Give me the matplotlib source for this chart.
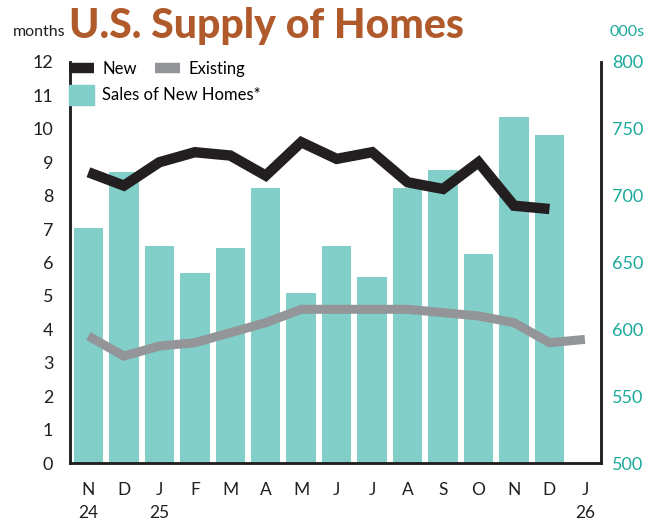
import numpy as np
import matplotlib.pyplot as plt
from matplotlib.patches import Patch
from matplotlib.lines import Line2D

months = ['N\n24', 'D', 'J\n25', 'F', 'M', 'A', 'M', 'J', 'J', 'A', 'S', 'O', 'N', 'D', 'J\n26']
# months' supply, new homes (Nov 24 - Dec 25)
new_supply = [8.7, 8.3, 9.0, 9.3, 9.2, 8.6, 9.6, 9.1, 9.3, 8.4, 8.2, 9.0, 7.7, 7.6]
# months' supply, existing homes (Nov 24 - Jan 26)
existing_supply = [3.8, 3.2, 3.5, 3.6, 3.9, 4.2, 4.6, 4.6, 4.6, 4.6, 4.5, 4.4, 4.2, 3.6, 3.7]
# sales of new homes, thousands (Nov 24 - Dec 25)
new_sales = [676, 718, 662, 642, 661, 706, 627, 662, 639, 706, 719, 656, 759, 745]

left_ticks = list(range(0, 13))
right_ticks = [500, 550, 600, 650, 700, 750, 800]

dark = '#231F20'
gray = '#939598'
teal_bar = '#82CEC9'
teal_txt = '#1AA99A'
title_col = '#B0592A'

plt.rcParams['font.family'] = ['Lato', 'DejaVu Sans']

fig = plt.figure(figsize=(6.62, 5.25), dpi=100)
ax = fig.add_axes([0.1057, 0.118, 0.802, 0.764])
ax2 = ax.twinx()

x = np.arange(len(months))

ax2.bar(x[:len(new_sales)], new_sales, width=0.83, color=teal_bar, zorder=1)
ax2.set_ylim(500, 800)

ax.plot(x[:len(new_supply)], new_supply, color=dark, lw=7.5, solid_joinstyle='miter',
        solid_capstyle='butt', zorder=3)
ax.plot(x[:len(existing_supply)], existing_supply, color=gray, lw=6.5, solid_joinstyle='miter',
        solid_capstyle='butt', zorder=2)
ax.set_ylim(0, 12)
ax.set_xlim(-0.52, 14.45)

ax.set_zorder(ax2.get_zorder() + 1)
ax.patch.set_visible(False)

for a in (ax, ax2):
    a.spines['top'].set_visible(False)
    for s in ('left', 'right', 'bottom'):
        a.spines[s].set_color(dark)
        a.spines[s].set_linewidth(1.8)

ax.set_yticks(left_ticks)
ax.set_yticklabels([str(t) for t in left_ticks], fontsize=13, color=dark)
ax.tick_params(axis='y', length=0, pad=12)
ax2.set_yticks(right_ticks)
ax2.set_yticklabels([str(t) for t in right_ticks], fontsize=13, color=teal_txt)
ax2.tick_params(axis='y', length=0, pad=8)
ax.set_xticks(x)
ax.set_xticklabels(months, fontsize=12.5, color=dark, linespacing=1.5, va='top')
ax.tick_params(axis='x', length=0, pad=14)

fig.text(0.02, 0.94, 'months', fontsize=11.5, color=dark, va='center')
fig.text(0.92, 0.94, '000s', fontsize=11.5, color=teal_txt, va='center')
fig.text(0.104, 0.95, 'U.S. Supply of Homes', fontsize=29.5, fontweight='black',
         color=title_col, va='center')

h1 = [Line2D([], [], color=dark, lw=7.5, solid_capstyle='butt'),
      Line2D([], [], color=gray, lw=7.5, solid_capstyle='butt')]
leg1 = ax.legend(h1, ['New', 'Existing'], ncol=2, loc='upper left', bbox_to_anchor=(-0.03, 1.04),
                 frameon=False, fontsize=12, handlelength=1.5, handletextpad=0.5,
                 columnspacing=1.1)
ax.add_artist(leg1)
h2 = [Patch(color=teal_bar)]
ax.legend(h2, ['Sales of New Homes*'], loc='upper left', bbox_to_anchor=(-0.03, 0.98),
          frameon=False, fontsize=12, handlelength=1.5, handleheight=1.45, handletextpad=0.5)

plt.savefig('out.png', dpi=100)
